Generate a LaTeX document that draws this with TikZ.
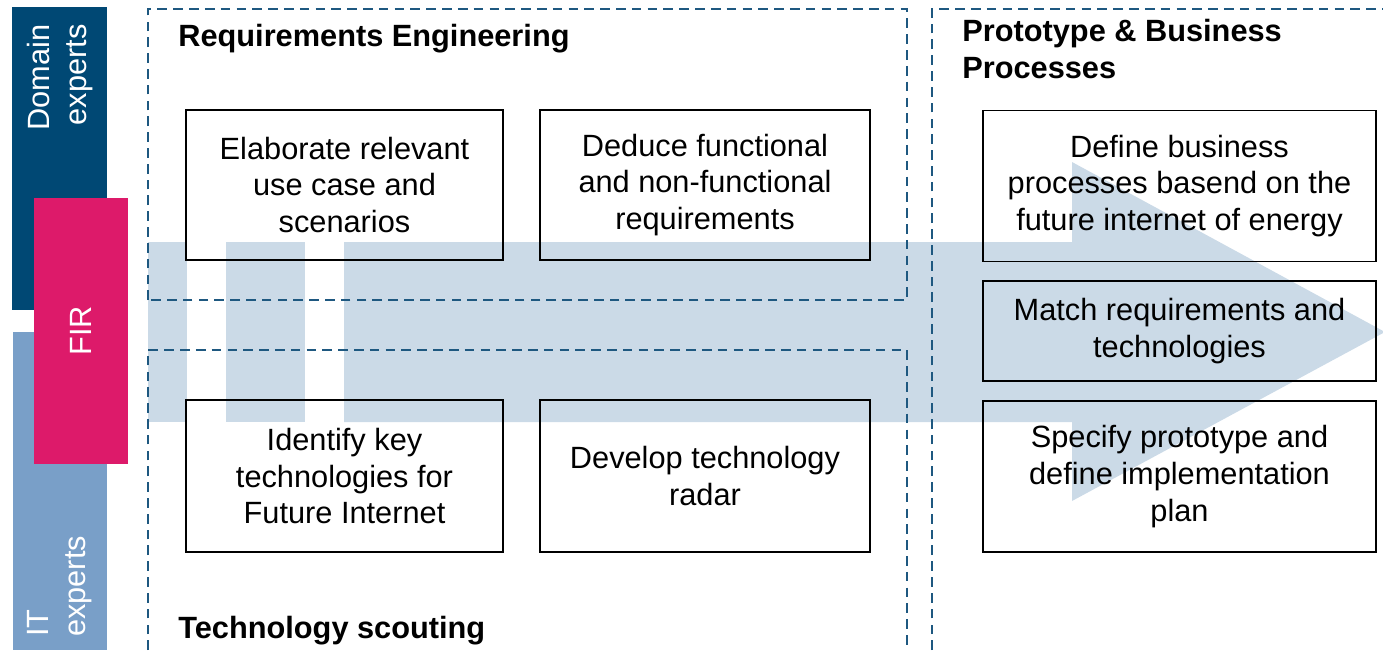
\documentclass[tikz,border=0pt]{standalone}
\usepackage{fontspec}
\setmainfont{Liberation Sans}
\usepackage{tikz}
\definecolor{domainblue}{RGB}{0,72,116}
\definecolor{itblue}{RGB}{121,159,200}
\definecolor{firred}{RGB}{221,26,106}
\definecolor{framebl}{RGB}{30,88,128}
\definecolor{arrowfill}{RGB}{203,218,231}

\begin{document}
\begin{tikzpicture}[x=0.02cm,y=-0.02cm,
   box/.style={draw=black,line width=0.9pt,align=center,inner sep=0pt,font=\fontsize{17.5}{21}\selectfont},
   frame/.style={draw=framebl,line width=1.3pt,dash pattern=on 5.5pt off 3.5pt},
   title/.style={inner sep=0pt,align=left,font=\fontsize{17.5}{21}\selectfont\bfseries},
   lane/.style={inner sep=0pt,rotate=90,text=white,font=\fontsize{17.5}{21}\selectfont}]
   \useasboundingbox (0,0) rectangle (1383,650);
   
   % lanes on the left
   \fill[domainblue] (12,7) rectangle (107,310);
   \fill[itblue] (13,332) rectangle (107,650);
   \fill[firred] (34,198) rectangle (128,464);
   \node[lane,anchor=east,align=right](domain) at (60,24) {Domain\\experts};
   \node[lane,anchor=west,align=left](it) at (60,637) {IT\\experts};
   \node[lane](fir) at (81,331) {FIR};
   
   % big arrow
   \fill[arrowfill] (148,242) rectangle (187,422);
   \fill[arrowfill] (226,242) rectangle (305,422);
   \fill[arrowfill] (344,242) -- (1072,242) -- (1072,162) -- (1385,332) -- (1072,501) -- (1072,422) -- (344,422) -- cycle;
   
   % frames
   \draw[frame] (148,300) -- (148,9) -- (907,9) -- (907,300) -- cycle;
   \draw[frame] (148,650) -- (148,350) -- (907,350) -- (907,650);
   \draw[frame] (932,650) -- (932,9) -- (1383,9);
   
   \node[title,anchor=base west](reqtitle) at (178,46) {Requirements Engineering};
   \node[title,anchor=base west](techtitle) at (178,638) {Technology scouting};
   \node[title,anchor=north west](prototitle) at (962,19) {Prototype \& Business\\Processes};
   
   \node[box,minimum width=6.34cm,minimum height=3cm](elab) at (344.5,185) {Elaborate relevant\\use case and\\scenarios};
   \node[box,minimum width=6.6cm,minimum height=3cm](deduce) at (705,185) {Deduce functional\\and non-functional\\requirements};
   \node[box,minimum width=6.34cm,minimum height=3.04cm](identify) at (344.5,476) {Identify key\\technologies for\\Future Internet};
   \node[box,minimum width=6.6cm,minimum height=3.04cm](develop) at (705,476) {Develop technology\\radar};
   \node[box,minimum width=7.86cm,minimum height=3.02cm](define) at (1179.5,186) {Define business\\processes basend on the\\future internet of energy};
   \node[box,minimum width=7.86cm,minimum height=2cm](match) at (1179.5,331) {Match requirements and\\technologies};
   \node[box,minimum width=7.86cm,minimum height=3.02cm](specify) at (1179.5,476.5) {Specify prototype and\\define implementation\\plan};
   
\end{tikzpicture}
\end{document}
